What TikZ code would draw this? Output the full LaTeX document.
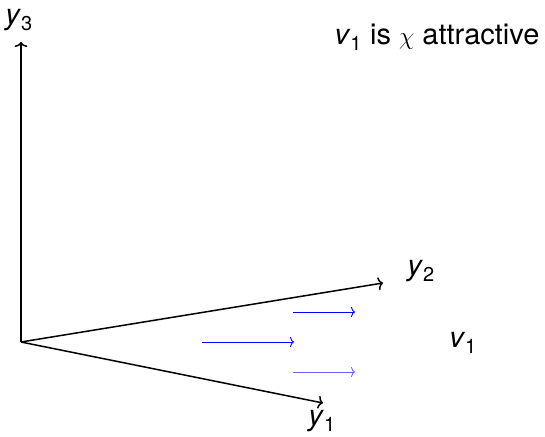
\documentclass[tikz,border=0pt]{standalone}
\usepackage{fontspec}
\setmainfont{TeX Gyre Heros}
\usetikzlibrary{arrows.meta}
\begin{document}
\begin{tikzpicture}[x=1pt,y=-1pt,
  axis/.style={-{To[length=5pt,width=13pt]},line width=1.5pt,black},
  flow/.style={-{To[length=4pt,width=10pt]},line width=0.9pt,blue},
  lbl/.style={inner sep=0pt,font=\fontsize{29}{34}\selectfont}]
\useasboundingbox (0,0) rectangle (545,436);
\coordinate (O) at (21,342);
\coordinate (e3) at (21,42);
\coordinate (e2) at (383,283);
\coordinate (e1) at (323,403);
\draw[axis] (O) -- (e3);
\draw[axis] (O) -- (e2);
\draw[axis] (O) -- (e1);
\node[lbl] (l3) at (19,20) {\textit{y}$_{\mbox{\fontsize{20}{24}\selectfont 3}}$};
\node[lbl] (l2) at (421,271) {\textit{y}$_{\mbox{\fontsize{20}{24}\selectfont 2}}$};
\node[lbl] (l1) at (322,421) {\textit{y}$_{\mbox{\fontsize{20}{24}\selectfont 1}}$};
\node[lbl] (v) at (463,343) {\textit{v}$_{\mbox{\fontsize{20}{24}\selectfont 1}}$};
\node[lbl] (t) at (437,37) {\textit{v}$_{\mbox{\fontsize{20}{24}\selectfont 1}}$ is $\chi$ attractive};
\coordinate (a1) at (293,312); \coordinate (b1) at (355,312);
\coordinate (a2) at (202,342); \coordinate (b2) at (294,342);
\coordinate (a3) at (293,372); \coordinate (b3) at (355,372);
\draw[flow] (a1) -- (b1);
\draw[flow] (a2) -- (b2);
\draw[flow,blue!60] (a3) -- (b3);
\end{tikzpicture}
\end{document}
